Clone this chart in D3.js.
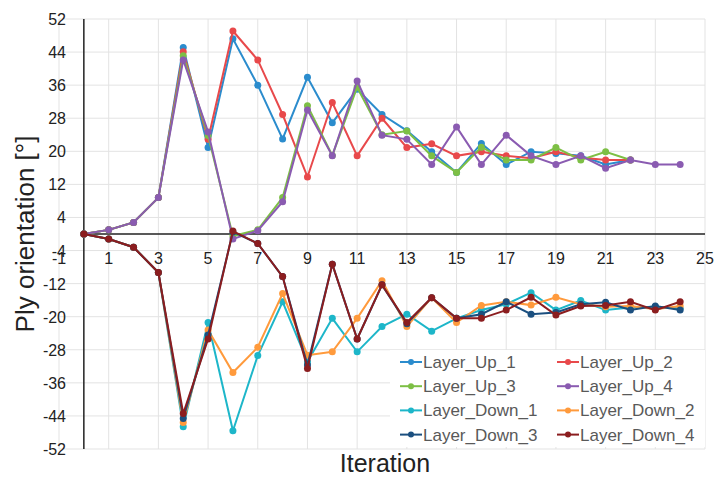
<!DOCTYPE html>
<html>
<head>
  <script src="https://d3js.org/d3.v7.min.js"></script>
  <style>
    body { margin: 0; background: #fff; }
    text { font-family: "Liberation Sans", Arial, sans-serif; }
  </style>
</head>
<body>
  <svg id="chart"></svg>
  <script>
    var seriesNames = ["Layer_Up_1", "Layer_Up_2", "Layer_Up_3", "Layer_Up_4",
                       "Layer_Down_1", "Layer_Down_2", "Layer_Down_3", "Layer_Down_4"];
    var colors = ["#2b8ccd", "#e8494b", "#7dbf45", "#8a5bb1",
                  "#1db6c9", "#ff9a3c", "#1b4f7f", "#8b1d1f"];

    var layerUp1 = [0, 1, 2.8, 8.8, 45.1, 20.9, 47.2, 36.0, 23.0, 37.9, 26.9, 35.0, 28.9, 25, 19.9, 14.9, 21.9, 16.8, 19.9, 19.5, 18.9, 16.8, 17.9];
    var layerUp2 = [0, 1, 2.8, 8.8, 44.1, 22.9, 49.1, 42.1, 28.9, 13.8, 31.8, 18.9, 28.0, 20.9, 21.8, 18.9, 19.9, 18.9, 18.3, 19.9, 18.5, 17.9, 17.9];
    var layerUp3 = [0, 1, 2.8, 8.8, 43.1, 23.8, -0.5, 1, 8.8, 31.0, 19, 35.5, 24, 24.9, 18.9, 14.9, 21.0, 17.9, 17.9, 20.9, 17.9, 19.9, 17.9];
    var layerUp4 = [0, 1, 2.8, 8.8, 42.1, 24.7, -1.2, 0.8, 7.8, 30.0, 18.9, 37.0, 23.9, 22.9, 16.8, 25.9, 16.8, 23.9, 18.9, 16.8, 18.9, 15.9, 17.9, 16.8, 16.8];
    var layerDown1 = [0, -1.2, -3.2, -9.3, -46.6, -21.4, -47.6, -29.4, -16.4, -30.9, -20.4, -28.5, -22.4, -19.4, -23.5, -20.4, -18.4, -17, -14.2, -18.4, -16.1, -18.4, -17.8, -17.6, -18];
    var layerDown2 = [0, -1.2, -3.2, -9.3, -45.6, -23.2, -33.5, -27.4, -14.4, -29.3, -28.5, -20.4, -11.3, -22.4, -15.4, -21.4, -17.3, -16.4, -17.2, -15.3, -17, -17.6, -17.4, -18.2, -17.4];
    var layerDown3 = [0, -1.2, -3.2, -9.3, -44.6, -24.4, 0.5, -2.3, -10.3, -31.7, -7.3, -25.4, -12.3, -21.7, -15.4, -20.4, -19.4, -16.4, -19.4, -19, -17, -16.5, -18.4, -17.4, -18.4];
    var layerDown4 = [0, -1.2, -3.2, -9.3, -43.4, -25.4, 0.7, -2.3, -10.3, -32.5, -7.3, -25.4, -12.3, -21.4, -15.4, -20.4, -20.4, -18.4, -15.3, -19.6, -17.4, -17.3, -16.4, -18.4, -16.4];

    var xTicks = [-1, 1, 3, 5, 7, 9, 11, 13, 15, 17, 19, 21, 23, 25];
    var yTicks = [52, 44, 36, 28, 20, 12, 4, -4, -12, -20, -28, -36, -44, -52];

    var allSeries = [layerUp1, layerUp2, layerUp3, layerUp4,
                     layerDown1, layerDown2, layerDown3, layerDown4];

    var width = 715, height = 479;
    var svg = d3.select("#chart").attr("width", width).attr("height", height);

    var xScale = d3.scaleLinear().domain([-1, 25]).range([59, 705]);
    var yScale = d3.scaleLinear().domain([-52, 52]).range([449, 19]);

    // grid
    svg.append("g").selectAll("line").data(xTicks).enter().append("line")
       .attr("x1", function(d) { return xScale(d); })
       .attr("x2", function(d) { return xScale(d); })
       .attr("y1", yScale(52)).attr("y2", yScale(-52))
       .attr("stroke", "#e3e3e3").attr("stroke-width", 1);
    svg.append("g").selectAll("line").data(yTicks).enter().append("line")
       .attr("x1", xScale(-1)).attr("x2", xScale(25))
       .attr("y1", function(d) { return yScale(d); })
       .attr("y2", function(d) { return yScale(d); })
       .attr("stroke", "#e3e3e3").attr("stroke-width", 1);

    // axes lines
    svg.append("line")
       .attr("x1", xScale(0)).attr("x2", xScale(0))
       .attr("y1", yScale(52)).attr("y2", yScale(-52))
       .attr("stroke", "#222").attr("stroke-width", 1.5);
    svg.append("line")
       .attr("x1", xScale(0)).attr("x2", xScale(25))
       .attr("y1", yScale(0)).attr("y2", yScale(0))
       .attr("stroke", "#222").attr("stroke-width", 1.5);

    // tick labels
    svg.append("g").selectAll("text").data(yTicks).enter().append("text")
       .attr("x", 66)
       .attr("y", function(d) { return yScale(d) + 6; })
       .attr("text-anchor", "end")
       .attr("font-size", 16).attr("fill", "#222")
       .text(function(d) { return d; });
    svg.append("g").selectAll("text").data(xTicks).enter().append("text")
       .attr("x", function(d) { return xScale(d); })
       .attr("y", yScale(0) + 30)
       .attr("text-anchor", "middle")
       .attr("font-size", 16).attr("fill", "#222")
       .text(function(d) { return d; });

    // axis titles
    svg.append("text")
       .attr("transform", "translate(34," + yScale(0) + ") rotate(-90)")
       .attr("text-anchor", "middle")
       .attr("font-size", 26).attr("fill", "#222")
       .text("Ply orientation [°]");
    svg.append("text")
       .attr("x", 385).attr("y", 472)
       .attr("text-anchor", "middle")
       .attr("font-size", 25).attr("fill", "#222")
       .text("Iteration");

    var line = d3.line()
                 .x(function(d, i) { return xScale(i); })
                 .y(function(d) { return yScale(d); });

    allSeries.forEach(function(values, k) {
      var g = svg.append("g");
      g.append("path")
       .datum(values)
       .attr("d", line)
       .attr("fill", "none")
       .attr("stroke", colors[k])
       .attr("stroke-width", 2);
      g.selectAll("circle").data(values).enter().append("circle")
       .attr("cx", function(d, i) { return xScale(i); })
       .attr("cy", function(d) { return yScale(d); })
       .attr("r", 3.5)
       .attr("fill", colors[k]);
    });

    // legend
    var legend = svg.append("g");
    legend.append("rect")
          .attr("x", 390).attr("y", 350).attr("width", 315).attr("height", 97)
          .attr("fill", "#fff");
    seriesNames.forEach(function(name, k) {
      var col = k % 2, row = Math.floor(k / 2);
      var lx = col === 0 ? 400 : 557;
      var ly = 362 + row * 24.2;
      legend.append("line")
            .attr("x1", lx).attr("x2", lx + 22)
            .attr("y1", ly).attr("y2", ly)
            .attr("stroke", colors[k]).attr("stroke-width", 2);
      legend.append("circle")
            .attr("cx", lx + 11).attr("cy", ly).attr("r", 3)
            .attr("fill", colors[k]);
      legend.append("text")
            .attr("x", lx + 23).attr("y", ly + 6)
            .attr("font-size", 17).attr("fill", "#595959")
            .text(name);
    });
  </script>
</body>
</html>
